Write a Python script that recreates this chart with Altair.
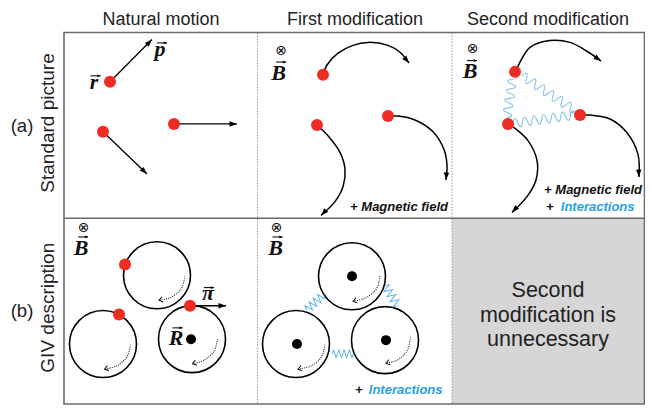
import math
import altair as alt
import pandas as pd

# ---------------- data ----------------
titles = ["Natural motion", "First modification", "Second modification"]
title_x = [161, 355, 548]
title_y = [25, 25, 25]

row_labels = ["Standard picture", "GIV description"]
row_label_x = [48, 48]
row_label_y = [125, 313]
row_tags = ["(a)", "(b)"]
row_tag_x = [22, 22]
row_tag_y = [128, 316]

# particles (red dots)
dot_x = [110, 103, 174, 323, 388, 317, 515, 580, 508, 125, 119, 190]
dot_y = [83, 134, 126, 76, 118, 127, 73, 117, 126, 269, 320, 311]

# guiding centres (black dots)
gc_x = [191, 352, 297, 386]
gc_y = [345, 281, 350, 346]

# cyclotron orbits (circles)
orb_x = [157, 103, 192, 352, 296, 385]
orb_y = [280, 350, 345, 281, 350, 346]

# straight momentum arrows
arr_x1 = [110, 103, 174, 190]
arr_y1 = [83, 134, 126, 311]
arr_x2 = [152, 147, 237, 226]
arr_y2 = [40, 177, 126, 311]

# curved trajectories
curves_x = [
    [323, 327, 338, 353, 368, 388, 400, 409],
    [388, 398, 415, 433, 444, 447, 446],
    [317, 328, 340, 345, 343, 335, 321],
    [515, 519, 530, 550, 570, 587, 601],
    [580, 590, 610, 627, 638, 639],
    [508, 517, 528, 537, 536, 527, 512],
]
curves_y = [
    [76, 66, 54, 46, 43, 46, 53, 64],
    [118, 118, 122, 134, 152, 168, 183],
    [127, 138, 155, 172, 190, 205, 219],
    [73, 65, 48, 41, 43, 52, 62],
    [117, 117, 121, 135, 157, 180],
    [126, 132, 143, 163, 183, 200, 216],
]

# dotted rotation arcs inside the orbits
arcs_x = [
    [185, 181, 171, 159],
    [130.5, 127, 117, 104.5],
    [217.5, 214, 204, 192.5],
    [380, 376.5, 366.5, 353],
    [325, 321.5, 311.5, 298],
    [410.5, 407.5, 398, 386],
]
arcs_y = [
    [281, 294, 302.5, 305.5],
    [350.5, 363, 372, 375.5],
    [345, 357.5, 366.5, 370],
    [281, 293.5, 302.5, 306.5],
    [350.5, 363, 372, 375.5],
    [343, 356, 366, 369.5],
]

# interaction waves (start / end points, number of periods)
wave_x1 = [513, 522, 513]
wave_y1 = [76, 77, 125]
wave_x2 = [507, 575, 575]
wave_y2 = [119, 112, 117]
wave_periods = [4.5, 6, 6.5]

# springs between guiding centres
spring_x1 = [306.7, 385, 332.3]
spring_y1 = [315, 290.7, 360]
spring_x2 = [323.3, 397.7, 353.3]
spring_y2 = [300, 310.7, 360]
spring_peaks = [8, 8, 8]

# labels
otimes_x = [281, 472.7, 83.7, 276.7]
otimes_y = [51.7, 50, 231.7, 231.7]
math_txt = ["B", "B", "B", "B", "r", "p", "R", "π"]
math_x = [278.5, 470, 81.2, 275.5, 94, 160, 176, 208]
math_y = [81, 79.5, 259.5, 259.5, 90, 57, 351, 305]
vec_x = [281, 472, 83, 277.5, 95.5, 162, 177.5, 209]
vec_y = [63, 61.5, 241, 241, 77, 43.5, 333.5, 292.5]

gray_lines = ["Second", "modification is", "unnecessary"]
gray_x = [548, 548, 548]
gray_y = [302.5, 327.3, 351.7]

ann_txt = ["+ Magnetic field", "+ Magnetic field", "Interactions", "Interactions", "+", "+"]
ann_x = [448, 642, 634.5, 442.5, 550, 359]
ann_y = [214.5, 197.5, 214.3, 401, 214.3, 401]
ann_align = ["right", "right", "right", "right", "center", "center"]
ann_col = ["#111111", "#111111", "#2b9fe6", "#2b9fe6", "#111111", "#111111"]

# ---------------- styles ----------------
RED = "#ee2c24"
W, H = 637, 397
XS = alt.Scale(domain=[8, 645], nice=False, zero=False)
YS = alt.Scale(domain=[8, 412], nice=False, zero=False, reverse=True)
SANS = "Liberation Sans"
SERIF = "Liberation Serif"
HEAD = "M0,0L-2,-0.72L-2,0.72Z"
CHEV = "M-1.6,-1.1L0,0L-1.6,1.1"
VEC_HALF = 5


def X(f="x"):
    return alt.X(f"{f}:Q", scale=XS, axis=None)


def Y(f="y"):
    return alt.Y(f"{f}:Q", scale=YS, axis=None)


def wave_path(periods, amp):
    n = int(round(periods * 2))
    h = 2.0 / n
    s = "M-1,0"
    for i in range(n):
        sgn = -1 if i % 2 == 0 else 1
        s += f"q{h/2:.4f},{sgn*2*amp:.4f} {h:.4f},0"
    return s


def zigzag_path(peaks, amp):
    h = 2.0 / peaks
    s = "M-1,0"
    for i in range(peaks):
        sgn = -1 if i % 2 == 0 else 1
        s += f"L{-1 + (i + 0.5) * h:.4f},{sgn*amp:.4f}"
    s += "L1,0"
    return s


def ang(dx, dy):
    return math.degrees(math.atan2(dy, dx)) % 360


# ---------------- tables ----------------
frame = pd.DataFrame({"x": [64], "x2": [644.5], "y": [33], "y2": [411]})
gray = pd.DataFrame({"x": [452], "x2": [644.5], "y": [222], "y2": [411]})
hsep = pd.DataFrame({"x": [64], "x2": [644.5], "y": [222], "y2": [222]})
vsep = pd.DataFrame({"x": [257.5, 452], "x2": [257.5, 452], "y": [33, 33], "y2": [411, 411]})

arrows = pd.DataFrame({"x": arr_x1, "y": arr_y1, "x2": arr_x2, "y2": arr_y2})

rows = []
heads = []
for i, (cx, cy) in enumerate(zip(curves_x, curves_y)):
    for j, (a, b) in enumerate(zip(cx, cy)):
        rows.append({"id": i, "o": j, "x": a, "y": b})
    heads.append({"x": cx[-1], "y": cy[-1], "a": ang(cx[-1] - cx[-2], cy[-1] - cy[-2])})
for a, b, c, d in zip(arr_x1, arr_y1, arr_x2, arr_y2):
    heads.append({"x": c, "y": d, "a": ang(c - a, d - b)})
curves = pd.DataFrame(rows)
heads = pd.DataFrame(heads)

vec_rules = pd.DataFrame({"x": [v - VEC_HALF for v in vec_x], "x2": [v + VEC_HALF for v in vec_x],
                          "y": vec_y, "y2": vec_y})
vec_heads = pd.DataFrame({"x": [v + VEC_HALF + 0.5 for v in vec_x], "y": vec_y, "a": [0] * len(vec_x)})

arows = []
aheads = []
for i, (cx, cy) in enumerate(zip(arcs_x, arcs_y)):
    for j, (a, b) in enumerate(zip(cx, cy)):
        arows.append({"id": i, "o": j, "x": a, "y": b})
    aheads.append({"x": cx[-1], "y": cy[-1], "a": ang(cx[-1] - cx[-2], cy[-1] - cy[-2])})
arcs = pd.DataFrame(arows)
aheads = pd.DataFrame(aheads)

waves = []
for x1, y1, x2, y2, p in zip(wave_x1, wave_y1, wave_x2, wave_y2, wave_periods):
    L = math.hypot(x2 - x1, y2 - y1)
    waves.append({"x": (x1 + x2) / 2, "y": (y1 + y2) / 2, "a": ang(x2 - x1, y2 - y1),
                  "s": L * L, "shp": wave_path(p, 4.5 / (L / 2))})
waves = pd.DataFrame(waves)

springs = []
for x1, y1, x2, y2, p in zip(spring_x1, spring_y1, spring_x2, spring_y2, spring_peaks):
    L = math.hypot(x2 - x1, y2 - y1)
    springs.append({"x": (x1 + x2) / 2, "y": (y1 + y2) / 2, "a": ang(x2 - x1, y2 - y1),
                    "s": L * L, "shp": zigzag_path(p, 4.2 / (L / 2))})
springs = pd.DataFrame(springs)

# ---------------- layers ----------------
L_gray = alt.Chart(gray).mark_rect(color="#d6d6d6").encode(x=X(), x2="x2:Q", y=Y(), y2="y2:Q")
L_vsep = alt.Chart(vsep).mark_rule(color="#9a9a9a", strokeWidth=1, strokeDash=[1.5, 1.5]).encode(
    x=X(), x2="x2:Q", y=Y(), y2="y2:Q")
L_hsep = alt.Chart(hsep).mark_rule(color="#6b6b6b", strokeWidth=1.6).encode(x=X(), x2="x2:Q", y=Y(), y2="y2:Q")
L_frame = alt.Chart(frame).mark_rect(fillOpacity=0, stroke="#6b6b6b", strokeWidth=1.6).encode(
    x=X(), x2="x2:Q", y=Y(), y2="y2:Q")

L_orb = alt.Chart(pd.DataFrame({"x": orb_x, "y": orb_y})).mark_point(
    shape="circle", filled=False, size=4489, color="black", strokeWidth=1.6, opacity=1).encode(x=X(), y=Y())

L_arrows = alt.Chart(arrows).mark_rule(color="black", strokeWidth=1.3).encode(x=X(), x2="x2:Q", y=Y(), y2="y2:Q")
L_curves = alt.Chart(curves).mark_line(color="black", strokeWidth=1.5, interpolate="catmull-rom").encode(
    x=X(), y=Y(), detail="id:N", order="o:Q")
L_heads = alt.Chart(heads).mark_point(shape=HEAD, filled=True, size=56, color="black", opacity=1).encode(
    x=X(), y=Y(), angle=alt.Angle("a:Q", scale=None))

L_vrules = alt.Chart(vec_rules).mark_rule(color="#111111", strokeWidth=1.1).encode(
    x=X(), x2="x2:Q", y=Y(), y2="y2:Q")
L_vheads = alt.Chart(vec_heads).mark_point(shape=HEAD, filled=True, size=14, color="#111111", opacity=1).encode(
    x=X(), y=Y(), angle=alt.Angle("a:Q", scale=None))

L_arcs = alt.Chart(arcs).mark_line(color="#222222", strokeWidth=1.1, strokeDash=[1, 1.2],
                                   interpolate="catmull-rom").encode(x=X(), y=Y(), detail="id:N", order="o:Q")
L_aheads = alt.Chart(aheads).mark_point(shape=CHEV, filled=False, size=22, color="#222222",
                                        strokeWidth=1.1, opacity=1).encode(
    x=X(), y=Y(), angle=alt.Angle("a:Q", scale=None))

L_waves = alt.Chart(waves).mark_point(filled=False, color="#86c3ec", strokeWidth=1.1, opacity=1).encode(
    x=X(), y=Y(), angle=alt.Angle("a:Q", scale=None), size=alt.Size("s:Q", scale=None, legend=None),
    shape=alt.Shape("shp:N", scale=None, legend=None))
L_springs = alt.Chart(springs).mark_point(filled=False, color="#5fb2ea", strokeWidth=1.0, opacity=1).encode(
    x=X(), y=Y(), angle=alt.Angle("a:Q", scale=None), size=alt.Size("s:Q", scale=None, legend=None),
    shape=alt.Shape("shp:N", scale=None, legend=None))

L_dots = alt.Chart(pd.DataFrame({"x": dot_x, "y": dot_y})).mark_circle(size=144, color=RED, opacity=1).encode(
    x=X(), y=Y())
L_gc = alt.Chart(pd.DataFrame({"x": gc_x, "y": gc_y})).mark_circle(size=100, color="black", opacity=1).encode(
    x=X(), y=Y())

L_titles = alt.Chart(pd.DataFrame({"x": title_x, "y": title_y, "t": titles})).mark_text(
    font=SANS, fontSize=18, color="#222222", align="center", baseline="alphabetic").encode(
    x=X(), y=Y(), text="t:N")
L_rows = alt.Chart(pd.DataFrame({"x": row_label_x, "y": row_label_y, "t": row_labels})).mark_text(
    font=SANS, fontSize=19, color="#222222", align="center", baseline="middle", angle=270).encode(
    x=X(), y=Y(), text="t:N")
L_tags = alt.Chart(pd.DataFrame({"x": row_tag_x, "y": row_tag_y, "t": row_tags})).mark_text(
    font=SANS, fontSize=18.5, color="#222222", align="center", baseline="middle").encode(
    x=X(), y=Y(), text="t:N")
L_grayt = alt.Chart(pd.DataFrame({"x": gray_x, "y": gray_y, "t": gray_lines})).mark_text(
    font=SANS, fontSize=21.5, color="#222222", align="center", baseline="alphabetic").encode(
    x=X(), y=Y(), text="t:N")
ann = pd.DataFrame({"x": ann_x, "y": ann_y, "t": ann_txt, "al": ann_align, "c": ann_col})
L_ann_r = alt.Chart(ann[ann.al == "right"]).mark_text(
    font=SANS, fontSize=13, fontStyle="italic", fontWeight="bold", align="right", baseline="alphabetic").encode(
    x=X(), y=Y(), text="t:N", color=alt.Color("c:N", scale=None))
L_ann_c = alt.Chart(ann[ann.al == "center"]).mark_text(
    font=SANS, fontSize=13, fontWeight="bold", align="center", baseline="alphabetic").encode(
    x=X(), y=Y(), text="t:N", color=alt.Color("c:N", scale=None))
L_math = alt.Chart(pd.DataFrame({"x": math_x, "y": math_y, "t": math_txt})).mark_text(
    font=SERIF, fontSize=22, fontStyle="italic", fontWeight="bold", color="#111111",
    align="center", baseline="alphabetic").encode(x=X(), y=Y(), text="t:N")
L_otimes = alt.Chart(pd.DataFrame({"x": otimes_x, "y": otimes_y, "t": ["⊗"] * len(otimes_x)})).mark_text(
    font="DejaVu Sans", fontSize=14, color="#111111", align="center", baseline="middle").encode(
    x=X(), y=Y(), text="t:N")

chart = alt.layer(
    L_gray, L_vsep, L_hsep, L_frame, L_orb, L_arcs, L_aheads, L_waves, L_springs,
    L_arrows, L_curves, L_heads, L_dots, L_gc, L_vrules, L_vheads,
    L_titles, L_rows, L_tags, L_grayt, L_ann_r, L_ann_c, L_math, L_otimes,
).properties(
    width=W, height=H, padding=0, autosize=alt.AutoSizeParams(type="none")
).configure_view(stroke=None)

chart.save("out.html", embed_options={"renderer": "svg", "actions": False})
